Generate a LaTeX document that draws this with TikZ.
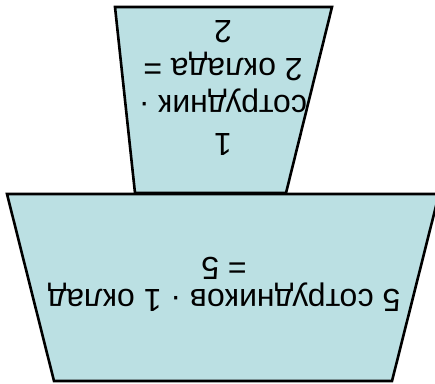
\documentclass[tikz,border=0pt]{standalone}
\usepackage{fontspec}
\setmainfont{Liberation Sans}
\usepackage{xcolor}
\usetikzlibrary{positioning}
\definecolor{tierfill}{HTML}{BBE0E3}

\begin{document}
\begin{tikzpicture}[
        x=1pt, y=-1pt,
        tier/.style={draw=black, line width=2.6pt, fill=tierfill, line join=miter},
        label/.style={rotate=180, align=center, inner sep=0pt,
            font=\fontsize{32}{32}\selectfont}
    ]
    \useasboundingbox (0,0) rectangle (435,383);

    % Corners of the two tiers
    \coordinate (ta) at (115,7);
    \coordinate (tb) at (332,7);
    \coordinate (tc) at (286,193);
    \coordinate (td) at (135,193);
    \coordinate (ba) at (7,194);
    \coordinate (bb) at (439,194);
    \coordinate (bc) at (392,381);
    \coordinate (bd) at (54,381);

    % Tiers
    \draw[tier] (ta) -- (tb) -- (tc) -- (td) -- cycle;
    \draw[tier] (ba) -- (bb) -- (bc) -- (bd) -- cycle;

    % Texts
    \node[label, font=\fontsize{32}{37.5}\selectfont] (upper) at (223,88)
        {1\\сотрудник ·\\2 оклада =\\2};
    \node[label] (lower) at (224,284) {5 сотрудников · 1 оклад\\= 5};
\end{tikzpicture}
\end{document}
